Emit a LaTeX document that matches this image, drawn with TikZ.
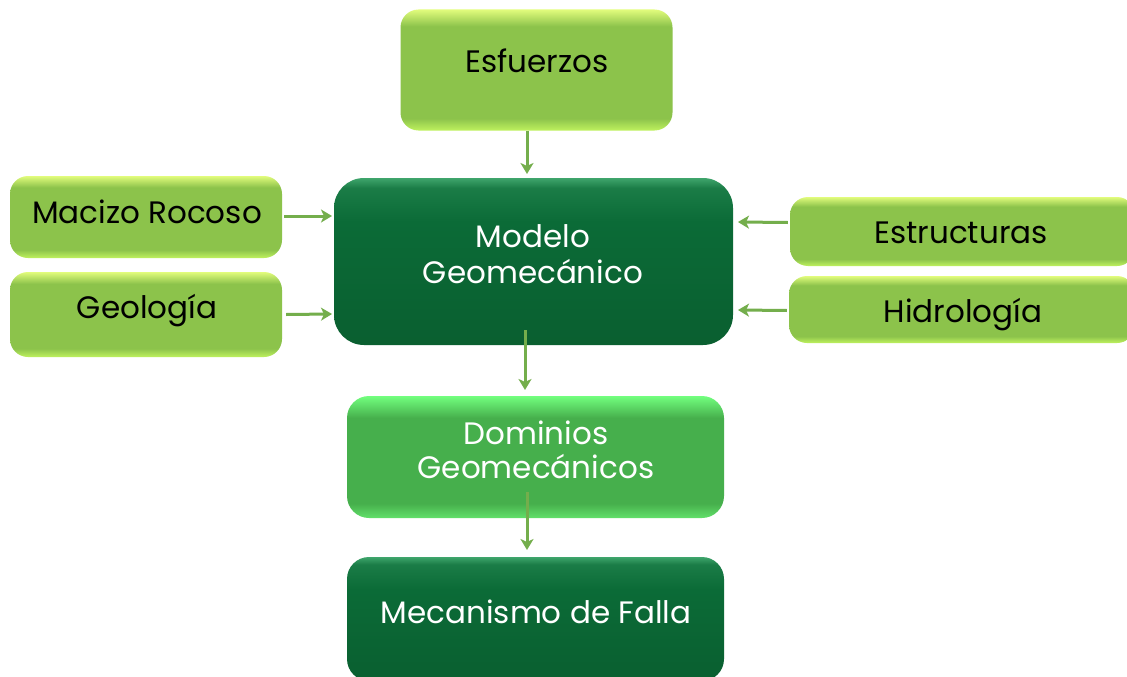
\documentclass[tikz,border=0pt]{standalone}
\usepackage{fontspec}
\setmainfont{Poppins}
\usetikzlibrary{arrows.meta}
\definecolor{lgtop}{HTML}{E2FC7C}
\definecolor{lgmid}{HTML}{8CC34B}
\definecolor{lgbot}{HTML}{BFF25E}
\definecolor{dgtop}{HTML}{3FA56C}
\definecolor{dgmid}{HTML}{0B6B37}
\definecolor{dgbot}{HTML}{0A5F30}
\definecolor{mgtop}{HTML}{72FF7E}
\definecolor{mgmid}{HTML}{46AF4C}
\definecolor{mgbot}{HTML}{62E06A}
\definecolor{arr}{HTML}{74AE4C}
\pgfdeclareverticalshading{lightsh}{100bp}{color(0bp)=(lgbot); color(25bp)=(lgbot); color(30bp)=(lgmid); color(68bp)=(lgmid); color(75bp)=(lgtop); color(100bp)=(lgtop)}
\pgfdeclareverticalshading{darksh}{100bp}{color(0bp)=(dgbot); color(25bp)=(dgbot); color(62bp)=(dgmid); color(72bp)=(dgmid!70!dgtop); color(75bp)=(dgtop); color(100bp)=(dgtop)}
\pgfdeclareverticalshading{midsh}{100bp}{color(0bp)=(mgbot); color(25bp)=(mgbot); color(31bp)=(mgmid); color(66bp)=(mgmid); color(75bp)=(mgtop); color(100bp)=(mgtop)}
\tikzset{
  lightbox/.style={rounded corners=18pt, shading=lightsh, inner sep=0pt},
  darkbox/.style={rounded corners=30pt, shading=darksh, inner sep=0pt},
  midbox/.style={rounded corners=22pt, shading=midsh, inner sep=0pt},
  blk/.style={anchor=base, inner sep=0pt, font=\fontsize{31}{36}\selectfont, text=black},
  wht/.style={anchor=base, inner sep=0pt, font=\fontsize{31}{36}\selectfont, text=white},
  link/.style={draw=arr, line width=3pt, -{Stealth[length=11pt,width=13pt,inset=3pt]}}
}
\begin{document}
\begin{tikzpicture}[x=1pt,y=-1pt]
\useasboundingbox (0,0) rectangle (1127,677);
\fill[white] (0,0) rectangle (1127,677);
\node[lightbox, minimum width=272pt, minimum height=121pt] (esf) at (536.5,70) {};
\node[darkbox, minimum width=399pt, minimum height=167pt] (mod) at (533.5,261.5) {};
\node[lightbox, minimum width=272pt, minimum height=82pt] (mac) at (146,217) {};
\node[lightbox, minimum width=272pt, minimum height=85pt] (geo) at (146,314.5) {};
\node[lightbox, minimum width=345pt, minimum height=69pt] (est) at (962.5,231.5) {};
\node[lightbox, minimum width=346pt, minimum height=67pt] (hid) at (962,309.5) {};
\node[midbox, minimum width=377pt, minimum height=122pt] (dom) at (535.5,457) {};
\node[darkbox, rounded corners=22pt, minimum width=377pt, minimum height=124pt] (mec) at (535.5,619) {};
\node[blk] (tesf) at (537,73) {Esfuerzos};
\node[wht] (tmod1) at (533,247) {Modelo};
\node[wht] (tmod2) at (533,283) {Geomecánico};
\node[blk] (tmac) at (147,223) {Macizo Rocoso};
\node[blk] (tgeo) at (147,318) {Geología};
\node[blk] (test) at (961,243) {Estructuras};
\node[blk] (thid) at (963,322) {Hidrología};
\node[wht] (tdom1) at (536,444) {Dominios};
\node[wht] (tdom2) at (536,478) {Geomecánicos};
\node[wht] (tmec) at (536,623) {Mecanismo de Falla};
\draw[link] (esf.south -| 527,0) -- (527,174);
\draw[link] (mac.east) ++(2,-1) -- (332,216);
\draw[link] (geo.east) ++(4,0) -- (332,314);
\draw[link] (est.west) ++(-2,-9) -- (738,222);
\draw[link] (hid.west) ++(-2,1) -- (738,310);
\draw[link] (525,330) -- (525,390) coordinate (domtop);
\draw[link] (527,492) -- (527,550) coordinate (mectop);
\end{tikzpicture}
\end{document}
